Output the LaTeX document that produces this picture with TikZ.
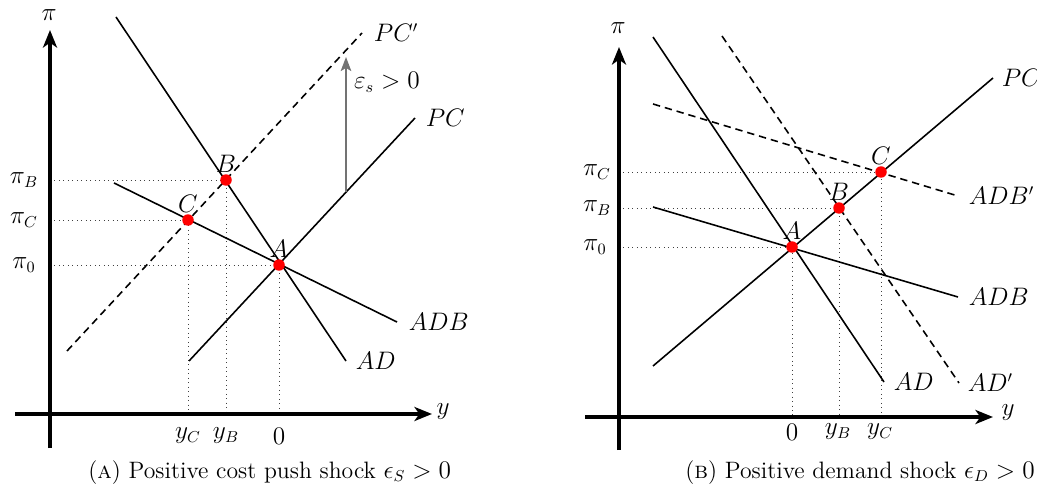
\documentclass[tikz,border=0pt]{standalone}
\usepackage{tikz}
\usetikzlibrary{positioning, arrows.meta, calc}
\usepackage{amsmath, amssymb}
\colorlet{guideC}{black!75}
\colorlet{shockC}{black!55}
\colorlet{eqC}{red}
\tikzset{
  axis/.style     ={-{Stealth[length=10pt, width=8pt, inset=2.8pt]}, line width=1.8pt},
  curve/.style    ={black, line width=0.9pt},
  curveNew/.style ={curve, dash pattern=on 4.2pt off 2.8pt},
  guide/.style    ={guideC, dotted, line width=0.55pt},
  push/.style     ={-{Stealth[length=8pt, width=6pt, inset=1.8pt]}, shockC, line width=1.1pt},
  eq/.style       ={circle, fill=eqC, inner sep=0pt, minimum size=0.23cm},
  lbl/.style      ={font=\fontsize{13.3}{16}\selectfont, text=black},
  subcap/.style   ={font=\fontsize{13.5}{16}\selectfont, inner sep=0pt},
}
\begin{document}
\begin{tikzpicture}[x=0.02cm, y=-0.02cm]
\useasboundingbox (0,0) rectangle (1037,493);

% --- panel (a): positive cost push shock ---
\coordinate (aYb) at (50,448);
\coordinate (aYt) at (50,30);
\coordinate (aXl) at (15,414);
\coordinate (aXr) at (432,414);
\coordinate (aA) at (279,265);
\coordinate (aB) at (226,180);
\coordinate (aC) at (188,220);

% guides to the axes
\draw[guide] (aYt |- aB) -- (aB) -- (aB |- aXl);
\draw[guide] (aYt |- aC) -- (aC) -- (aC |- aXl);
\draw[guide] (aYt |- aA) -- (aA) -- (aA |- aXl);

\draw[axis] (aYb) -- (aYt);
\draw[axis] (aXl) -- (aXr);
\node[lbl] (aPi) at (49,15) {$\pi$};
\node[lbl] (aY) at (443,412) {$y$};

% curves
\coordinate (aAD0) at (116,17);   \coordinate (aAD1) at (346,361);
\coordinate (aADB0) at (114,183); \coordinate (aADB1) at (397,322);
\coordinate (aPC0) at (189,361);  \coordinate (aPC1) at (415,118);
\coordinate (aPCn0) at (67,351);  \coordinate (aPCn1) at (362,33);
\draw[curve] (aAD0) -- (aAD1) node[lbl, right=1.8pt] (aADt) {$AD$};
\draw[curve] (aADB0) -- (aADB1) node[lbl, right=3pt] (aADBt) {$ADB$};
\draw[curve] (aPC0) -- (aPC1) node[lbl, right=2.4pt] (aPCt) {$PC$};
\draw[curveNew] (aPCn0) -- (aPCn1) node[lbl, right=3pt] (aPCnt) {$PC'$};

% shift of the Phillips curve
\coordinate (aPush0) at (346,192);
\coordinate (aPush1) at (346,57);
\draw[push] (aPush0) -- (aPush1)
  node[lbl, pos=0.81, right=0.7pt] (aPusht) {$\varepsilon_s > 0$};

% equilibria
\node[eq] (aAdot) at (aA) {};
\node[eq] (aBdot) at (aB) {};
\node[eq] (aCdot) at (aC) {};
\node[lbl, above=-3pt of aAdot] (aAt) {$A$};
\node[lbl, above=-3pt of aBdot] (aBt) {$B$};
\node[lbl, above=-3pt of aCdot] (aCt) {$C$};

% ticks
\node[lbl] (aPiB) at (24,180) {$\pi_B$};
\node[lbl] (aPiC) at (24,220) {$\pi_C$};
\node[lbl] (aPi0) at (24,265) {$\pi_0$};
\node[lbl] (aYC) at (188,436) {$y_C$};
\node[lbl] (aYB) at (226,436) {$y_B$};
\node[lbl] (aY0) at (279,436) {$0$};

\node[subcap, anchor=base west] (capA) at (88,478)
  {(\textsc{a}) Positive cost push shock $\epsilon_S > 0$};

% --- panel (b): positive demand shock ---
\coordinate (bYb) at (619,450);
\coordinate (bYt) at (619,47);
\coordinate (bXl) at (585,417);
\coordinate (bXr) at (993,417);
\coordinate (bA) at (792,247);
\coordinate (bB) at (839,208);
\coordinate (bC) at (881,172);

% guides to the axes
\draw[guide] (bYt |- bC) -- (bC) -- (bC |- bXl);
\draw[guide] (bYt |- bB) -- (bB) -- (bB |- bXl);
\draw[guide] (bYt |- bA) -- (bA) -- (bA |- bXl);

\draw[axis] (bYb) -- (bYt);
\draw[axis] (bXl) -- (bXr);
\node[lbl] (bPi) at (618,28) {$\pi$};
\node[lbl] (bY) at (1008,413) {$y$};

% curves
\coordinate (bAD0) at (653,37);    \coordinate (bAD1) at (884,382);
\coordinate (bADB0) at (653,207);  \coordinate (bADB1) at (958,297);
\coordinate (bPC0) at (653,366);   \coordinate (bPC1) at (993,78);
\coordinate (bADn0) at (722,36);   \coordinate (bADn1) at (959,383);
\coordinate (bADBn0) at (653,104); \coordinate (bADBn1) at (958,196);
\draw[curve] (bAD0) -- (bAD1) node[lbl, right=1.8pt] (bADt) {$AD$};
\draw[curve] (bADB0) -- (bADB1) node[lbl, right=2.4pt] (bADBt) {$ADB$};
\draw[curve] (bPC0) -- (bPC1) node[lbl, right=1.2pt] (bPCt) {$PC$};
\draw[curveNew] (bADn0) -- (bADn1) node[lbl, right=1.2pt] (bADnt) {$AD'$};
\draw[curveNew] (bADBn0) -- (bADBn1) node[lbl, right=2.4pt] (bADBnt) {$ADB'$};

% equilibria
\node[eq] (bAdot) at (bA) {};
\node[eq] (bBdot) at (bB) {};
\node[eq] (bCdot) at (bC) {};
\node[lbl, above=-3pt of bAdot] (bAt) {$A$};
\node[lbl, above=-3pt of bBdot] (bBt) {$B$};
\node[lbl, above=-3pt of bCdot] (bCt) {$C$};

% ticks
\node[lbl] (bPiC) at (597,172) {$\pi_C$};
\node[lbl] (bPiB) at (597,208) {$\pi_B$};
\node[lbl] (bPi0) at (595,247) {$\pi_0$};
\node[lbl] (bY0) at (792,432) {$0$};
\node[lbl] (bYB) at (838,432) {$y_B$};
\node[lbl] (bYC) at (880,432) {$y_C$};

\node[subcap, anchor=base east] (capB) at (1035,478)
  {(\textsc{b}) Positive demand shock $\epsilon_D > 0$};

\end{tikzpicture}
\end{document}
